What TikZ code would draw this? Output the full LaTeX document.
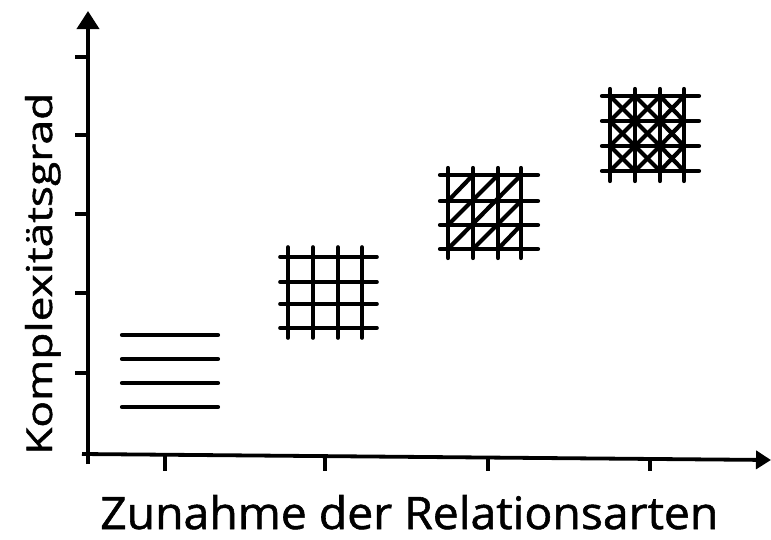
\documentclass[tikz,border=0pt]{standalone}
\usepackage{fontspec}
\setmainfont{Open Sans}
\newfontfamily\handfont{Open Sans}[FakeBold=1.2]
\usetikzlibrary{arrows.meta}
\tikzset{
  axisline/.style={line width=3.8pt},
  stroke/.style={line width=4.2pt, line cap=round},
  thinstroke/.style={line width=3.6pt, line cap=round},
  tickmark/.style={line width=3.4pt},
}
\begin{document}
\begin{tikzpicture}[x=1pt,y=-1pt]
\useasboundingbox (0,0) rectangle (771,539);
% axes
\coordinate (O) at (88,455);
\coordinate (Ytop) at (88,11);
\coordinate (Xend) at (771,460);
\coordinate (Obelow) at (88,464);
\coordinate (Oleft) at (82,454);
\draw[axisline,-{Triangle[length=18pt,width=22pt]}] (Obelow) -- (Ytop);
\draw[axisline,-{Triangle[length=15pt,width=18pt]}] (Oleft) -- (Xend);
% y ticks
\foreach \yy in {57,135,214,293,373}{
  \draw[tickmark] (75,\yy) -- (88,\yy);
}
% x ticks
\foreach \xx/\yy in {165/456,325/457,488/458,650/459}{
  \draw[tickmark] (\xx,\yy) -- (\xx,471);
}
% labels
\node[rotate=90, anchor=base west, inner sep=0pt] (ylab) at (52,455)
  {\resizebox{362pt}{27pt}{\handfont Komplexitätsgrad}};
\node[anchor=base west, inner sep=0pt] (xlab) at (100,529)
  {\resizebox{618pt}{34pt}{\handfont Zunahme der Relationsarten}};
% pattern 1
\foreach \yy in {335,359,383,407}{
  \draw[stroke] (122,\yy) -- (218,\yy);
}
% pattern 2
\foreach \yy in {257,282,304,328}{
  \draw[thinstroke] (280,\yy) -- (377,\yy);
}
\foreach \xx in {288,313,338,362}{
  \draw[thinstroke] (\xx,247) -- (\xx,338);
}
% pattern 3
\foreach \yy in {175,201,225,249}{
  \draw[stroke] (440,\yy) -- (538,\yy);
}
\foreach \xx in {448,473,498,521}{
  \draw[stroke] (\xx,168) -- (\xx,258);
}
\draw[stroke] (448,249) -- (521,175);
\draw[stroke] (448,225) -- (498,175);
\draw[stroke] (448,201) -- (473,175);
\draw[stroke] (473,249) -- (521,201);
\draw[stroke] (498,249) -- (521,225);
% pattern 4
\foreach \yy in {96,121,146,171}{
  \draw[stroke] (602,\yy) -- (699,\yy);
}
\foreach \xx in {610,635,660,684}{
  \draw[stroke] (\xx,89) -- (\xx,181);
}
\foreach \xa/\xb in {610/635,635/660,660/684}{
  \foreach \ya/\yb in {96/121,121/146,146/171}{
    \draw[stroke] (\xa,\ya) -- (\xb,\yb);
    \draw[stroke] (\xa,\yb) -- (\xb,\ya);
  }
}
\end{tikzpicture}
\end{document}
